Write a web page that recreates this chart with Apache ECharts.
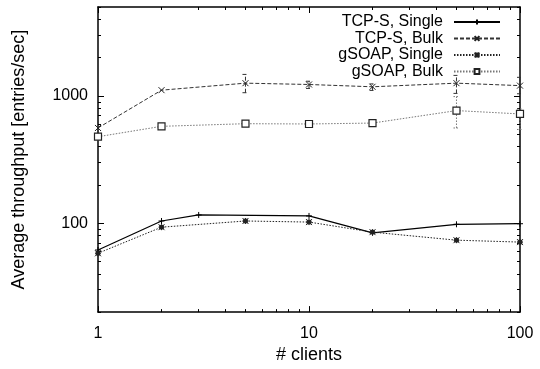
<!DOCTYPE html>
<html>
<head>
<meta charset="utf-8">
<script src="https://cdn.jsdelivr.net/npm/echarts@6/dist/echarts.min.js"></script>
<style>
  html, body { margin: 0; padding: 0; background: #fff; }
  #chart { width: 540px; height: 369px; }
</style>
</head>
<body>
<div id="chart"></div>
<script>
// clients on the x axis
const clientsTcpSingle = [1, 2, 3, 10, 20, 50, 100]
const clients = [1, 2, 5, 10, 20, 50, 100]

// average throughput [entries/sec]
const tcpSingle = [61.5, 104, 116, 114, 84, 98, 99]
const tcpBulk = [560, 1110, 1260, 1230, 1180, 1260, 1205]
const gsoapSingle = [58, 93, 104, 102, 85, 73.5, 71]
const gsoapBulk = [478, 577, 605, 602, 612, 767, 722]

// error bars (low / high)
const tcpBulkErrX = [5, 10, 20, 50, 100]
const tcpBulkErrLo = [1060, 1145, 1105, 1047, 1040]
const tcpBulkErrHi = [1476, 1305, 1243, 1450, 1400]
const gsoapBulkErrX = [50, 100]
const gsoapBulkErrLo = [560, 545]
const gsoapBulkErrHi = [988, 790]

// ticks
const xMajor = [1, 10, 100]
const xMinor = [2, 3, 4, 5, 6, 7, 8, 9, 20, 30, 40, 50, 60, 70, 80, 90]
const yMajor = [100, 1000]
const yMinor = [20, 30, 40, 50, 60, 70, 80, 90, 200, 300, 400, 500, 600, 700, 800, 900, 2000, 3000, 4000, 5000]

const names = ['TCP-S, Single', 'TCP-S, Bulk', 'gSOAP, Single', 'gSOAP, Bulk']
const font = 'Liberation Sans, Arial, sans-serif'

const chart = echarts.init(document.getElementById('chart'))

function pairs(xs, ys) {
  return xs.map((x, i) => [x, ys[i]])
}

function errData(xs, lo, hi) {
  return xs.map((x, i) => [x, lo[i], hi[i]])
}

// vertical error bar with small caps
function errorBar(color, dash) {
  return function (params, api) {
    const x = api.value(0)
    const lo = api.coord([x, api.value(1)])
    const hi = api.coord([x, api.value(2)])
    const cap = 3
    const style = { stroke: color, lineWidth: 1, lineDash: dash, fill: null }
    return {
      type: 'group',
      children: [
        { type: 'line', shape: { x1: lo[0], y1: lo[1], x2: hi[0], y2: hi[1] }, style: style },
        { type: 'line', shape: { x1: lo[0] - cap, y1: lo[1], x2: lo[0] + cap, y2: lo[1] }, style: style },
        { type: 'line', shape: { x1: hi[0] - cap, y1: hi[1], x2: hi[0] + cap, y2: hi[1] }, style: style }
      ]
    }
  }
}

function plain(v) {
  return String(v)
}

function xAxis(pos, ticks, len, labels, line) {
  return {
    type: 'log', position: pos, min: 1, max: 100, logBase: 10,
    axisLine: { show: line, onZero: false, lineStyle: { color: '#000', width: 1.5 } },
    axisTick: { show: true, inside: true, length: len, customValues: ticks, lineStyle: { color: '#000' } },
    axisLabel: labels ? { customValues: ticks, formatter: plain, color: '#000', fontSize: 16, fontFamily: font, margin: 13 } : { show: false },
    splitLine: { show: false }
  }
}

function yAxis(pos, ticks, len, labels, line) {
  return {
    type: 'log', position: pos, min: 20, max: 5000, logBase: 10,
    axisLine: { show: line, onZero: false, lineStyle: { color: '#000', width: 1.5 } },
    axisTick: { show: true, inside: true, length: len, customValues: ticks, lineStyle: { color: '#000' } },
    axisLabel: labels ? { customValues: ticks, formatter: plain, color: '#000', fontSize: 16, fontFamily: font, margin: 10 } : { show: false },
    splitLine: { show: false }
  }
}

const bottomX = xAxis('bottom', xMajor, 6, true, true)
bottomX.name = '# clients'
bottomX.nameLocation = 'middle'
bottomX.nameGap = 30
bottomX.nameTextStyle = { color: '#000', fontSize: 18, fontFamily: font }

const leftY = yAxis('left', yMajor, 6, true, true)
leftY.name = 'Average throughput [entries/sec]'
leftY.nameLocation = 'middle'
leftY.nameGap = 70
leftY.nameTextStyle = { color: '#000', fontSize: 18, fontFamily: font }

const plusPath = 'path://M0,5L10,5M5,0L5,10'
const crossPath = 'path://M0,0L10,10M10,0L0,10'
const starBox = 'path://M2,2L8,2L8,8L2,8Z M0,0L10,10M10,0L0,10M5,0L5,10M0,5L10,5'

function legendFor(i) {
  return {
    data: [names[i]],
    right: 39,
    top: 14 + i * 16.5,
    padding: 0,
    align: 'right',
    itemWidth: 46,
    itemHeight: 6,
    selectedMode: false,
    textStyle: { color: '#000', fontSize: 16, fontFamily: font, padding: [0, 6, 0, 0] }
  }
}

const option = {
  backgroundColor: '#fff',
  animation: false,
  grid: { left: 98, right: 20, top: 7, bottom: 50, show: false },
  legend: [legendFor(0), legendFor(1), legendFor(2), legendFor(3)],
  xAxis: [
    bottomX,
    xAxis('bottom', xMinor, 3, false, false),
    xAxis('top', xMajor, 6, false, true),
    xAxis('top', xMinor, 3, false, false)
  ],
  yAxis: [
    leftY,
    yAxis('left', yMinor, 3, false, false),
    yAxis('right', yMajor, 6, false, true),
    yAxis('right', yMinor, 3, false, false)
  ],
  series: [
    {
      name: names[0], type: 'line', data: pairs(clientsTcpSingle, tcpSingle),
      symbol: plusPath, symbolSize: 6,
      lineStyle: { color: '#000', width: 1.2, type: 'solid' },
      itemStyle: { color: '#000', borderColor: '#000', borderWidth: 1 }
    },
    {
      name: names[1], type: 'line', data: pairs(clients, tcpBulk),
      symbol: crossPath, symbolSize: 6,
      lineStyle: { color: '#333', width: 1, type: [4, 2] },
      itemStyle: { color: '#222', borderColor: '#222', borderWidth: 1 }
    },
    {
      name: names[2], type: 'line', data: pairs(clients, gsoapSingle),
      symbol: starBox, symbolSize: 6,
      lineStyle: { color: '#222', width: 1, type: [1.5, 1.5] },
      itemStyle: { color: '#222', borderColor: '#222', borderWidth: 1 }
    },
    {
      name: names[3], type: 'line', data: pairs(clients, gsoapBulk),
      symbol: 'rect', symbolSize: 7,
      lineStyle: { color: '#777', width: 1, type: [1.5, 1.5] },
      itemStyle: { color: '#fff', borderColor: '#222', borderWidth: 1.2 }
    },
    {
      type: 'custom', data: errData(tcpBulkErrX, tcpBulkErrLo, tcpBulkErrHi),
      renderItem: errorBar('#333', [4, 2]), silent: true, z: 1
    },
    {
      type: 'custom', data: errData(gsoapBulkErrX, gsoapBulkErrLo, gsoapBulkErrHi),
      renderItem: errorBar('#777', [1.5, 1.5]), silent: true, z: 1
    }
  ]
}

chart.setOption(option)
</script>
</body>
</html>
